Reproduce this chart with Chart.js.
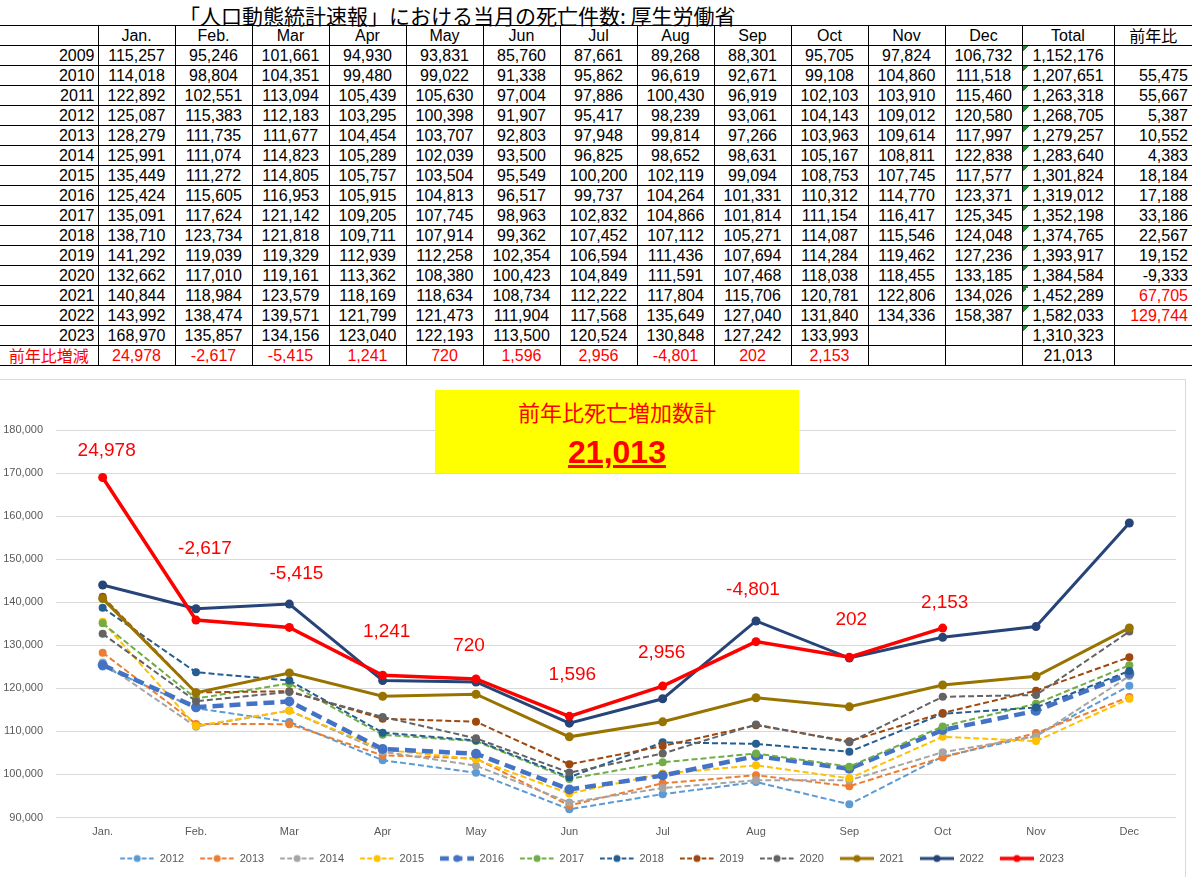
<!DOCTYPE html>
<html>
<head>
<meta charset="utf-8">
<script src="https://cdn.jsdelivr.net/npm/chart.js@4.4.0/dist/chart.umd.min.js"></script>
<style>
  body { margin: 0; width: 1192px; height: 877px; background: #fff; position: relative; overflow: hidden; }
  #title { position: absolute; left: 179px; top: 0; height: 25px; line-height: 24px; font: 21px "Noto Sans CJK JP"; color: #000; white-space: nowrap; }
  table { position: absolute; left: 0; top: 25px; border-collapse: collapse; table-layout: fixed; width: 1192px; }
  tr { height: 20px; }
  td { border: 1px solid #000; line-height: 17px; padding: 0 2px; font: 16px "Liberation Sans"; text-align: center; white-space: nowrap; overflow: hidden; color: #000; }
  td.lab { border-left: none; text-align: right; padding-right: 3px; }
  td.yoy { text-align: right; padding-right: 4px; border-right: none; }
  td.tot { background: linear-gradient(135deg, #1d8a2e 50%, transparent 50%) no-repeat 0 0 / 6px 6px; }
  td.jp { font-family: "Noto Sans CJK JP"; font-size: 16px; line-height: 17px; }
  .red { color: #ff0000; }
  #chartBox { position: absolute; left: 0; top: 379px; width: 1185px; height: 498px; border-top: 1px solid #d9d9d9; border-right: 1px solid #d9d9d9; }
  #chartWrap { position: absolute; left: 0; top: 0; width: 1185px; height: 494px; }
  #note { position: absolute; left: 435px; top: 10px; width: 364px; height: 83px; background: #ffff00; text-align: center; color: #ff0000; }
  #note .l1 { position: absolute; left: 0; right: 0; top: 7px; font: 22px "Noto Sans CJK JP"; line-height: 28px; }
  #note .l2 { position: absolute; left: 0; right: 0; top: 46px; font: bold 32px "Liberation Sans"; line-height: 32px; text-decoration: underline; }
</style>
</head>
<body>
<div id="title">「人口動態統計速報」における当月の死亡件数: 厚生労働省</div>
<table id="tbl"></table>
<div id="chartBox">
  <div id="chartWrap"><canvas id="deathChart"></canvas></div>
  <div id="note"><div class="l1">前年比死亡増加数計</div><div class="l2">21,013</div></div>
</div>
<script>
// monthly deaths (人口動態統計速報)
const months = ['Jan.', 'Feb.', 'Mar', 'Apr', 'May', 'Jun', 'Jul', 'Aug', 'Sep', 'Oct', 'Nov', 'Dec'];

const d2009 = [115257, 95246, 101661, 94930, 93831, 85760, 87661, 89268, 88301, 95705, 97824, 106732];
const d2010 = [114018, 98804, 104351, 99480, 99022, 91338, 95862, 96619, 92671, 99108, 104860, 111518];
const d2011 = [122892, 102551, 113094, 105439, 105630, 97004, 97886, 100430, 96919, 102103, 103910, 115460];
const d2012 = [125087, 115383, 112183, 103295, 100398, 91907, 95417, 98239, 93061, 104143, 109012, 120580];
const d2013 = [128279, 111735, 111677, 104454, 103707, 92803, 97948, 99814, 97266, 103963, 109614, 117997];
const d2014 = [125991, 111074, 114823, 105289, 102039, 93500, 96825, 98652, 98631, 105167, 108811, 122838];
const d2015 = [135449, 111272, 114805, 105757, 103504, 95549, 100200, 102119, 99094, 108753, 107745, 117577];
const d2016 = [125424, 115605, 116953, 105915, 104813, 96517, 99737, 104264, 101331, 110312, 114770, 123371];
const d2017 = [135091, 117624, 121142, 109205, 107745, 98963, 102832, 104866, 101814, 111154, 116417, 125345];
const d2018 = [138710, 123734, 121818, 109711, 107914, 99362, 107452, 107112, 105271, 114087, 115546, 124048];
const d2019 = [141292, 119039, 119329, 112939, 112258, 102354, 106594, 111436, 107694, 114284, 119462, 127236];
const d2020 = [132662, 117010, 119161, 113362, 108380, 100423, 104849, 111591, 107468, 118038, 118455, 133185];
const d2021 = [140844, 118984, 123579, 118169, 118634, 108734, 112222, 117804, 115706, 120781, 122806, 134026];
const d2022 = [143992, 138474, 139571, 121799, 121473, 111904, 117568, 135649, 127040, 131840, 134336, 158387];
const d2023 = [168970, 135857, 134156, 123040, 122193, 113500, 120524, 130848, 127242, 133993, null, null];

const years = [2009, 2010, 2011, 2012, 2013, 2014, 2015, 2016, 2017, 2018, 2019, 2020, 2021, 2022, 2023];
const yearData = [d2009, d2010, d2011, d2012, d2013, d2014, d2015, d2016, d2017, d2018, d2019, d2020, d2021, d2022, d2023];
const totals = [1152176, 1207651, 1263318, 1268705, 1279257, 1283640, 1301824, 1319012, 1352198, 1374765, 1393917, 1384584, 1452289, 1582033, 1310323];
const yoy = [null, 55475, 55667, 5387, 10552, 4383, 18184, 17188, 33186, 22567, 19152, -9333, 67705, 129744, null];
const yoyRed = [2021, 2022];

// 2023 vs 2022 by month
const diff2023 = [24978, -2617, -5415, 1241, 720, 1596, 2956, -4801, 202, 2153];
const diffTotal = 21013;

// chart series: 2012 .. 2023
const chartYears = [2012, 2013, 2014, 2015, 2016, 2017, 2018, 2019, 2020, 2021, 2022, 2023];
const colors = ['#5b9bd5', '#ed7d31', '#a5a5a5', '#ffc000', '#4472c4', '#70ad47', '#255e91', '#9e480e', '#636363', '#997300', '#264478', '#ff0000'];

// label nudges for the red numbers (px from the point)
const labelDx = [4, 9, 7, 4, -7, 3, -1, -3, 2, 2];
const labelDy = [-27, -71, -54, -43, -33, -42, -33, -52, -37, -25];

const fmt = v => v.toLocaleString('en-US');

// ---- table ----
const tbl = document.getElementById('tbl');
let html = '<colgroup><col style="width:98px">';
months.forEach(() => { html += '<col style="width:77px">'; });
html += '<col style="width:92px"><col style="width:78px"></colgroup>';
html += '<tr><td class="lab"></td>' + months.map(m => '<td>' + m + '</td>').join('') +
  '<td>Total</td><td class="jp" style="border-right:none">前年比</td></tr>';
years.forEach((y, i) => {
  html += '<tr><td class="lab">' + y + '</td>';
  yearData[i].forEach(v => { html += '<td>' + (v == null ? '' : fmt(v)) + '</td>'; });
  html += '<td class="tot">' + fmt(totals[i]) + '</td>';
  const red = yoyRed.includes(y) ? ' red' : '';
  html += '<td class="yoy' + red + '">' + (yoy[i] == null ? '' : fmt(yoy[i])) + '</td></tr>';
});
html += '<tr><td class="lab jp red" style="text-align:center;padding:0">前年比増減</td>';
months.forEach((m, i) => { html += '<td class="red">' + (diff2023[i] == null ? '' : fmt(diff2023[i])) + '</td>'; });
html += '<td>' + fmt(diffTotal) + '</td><td class="yoy"></td></tr>';
tbl.innerHTML = html;

// ---- chart ----
function lineStyle(year) {
  if (year === 2016) return { width: 4.5, dash: [11, 6], radius: 5 };
  if (year >= 2021) return { width: year === 2023 ? 3.5 : 3, dash: [], radius: 4.5 };
  return { width: 2, dash: [6, 3], radius: 4 };
}

// legend icon: short line + marker, drawn into a little canvas
function legendIcon(color, year) {
  const st = lineStyle(year);
  const c = document.createElement('canvas');
  c.width = 42; c.height = 12;
  const g = c.getContext('2d');
  g.strokeStyle = color;
  g.lineWidth = st.width;
  g.setLineDash(st.dash.length ? [st.dash[0] * 0.8, st.dash[1] * 0.8] : []);
  g.beginPath(); g.moveTo(8, 6); g.lineTo(42, 6); g.stroke();
  g.fillStyle = color;
  g.beginPath(); g.arc(25, 6, 3.5, 0, Math.PI * 2); g.fill();
  return c;
}

const datasets = chartYears.map((y, i) => {
  const st = lineStyle(y);
  return {
    label: String(y),
    data: yearData[years.indexOf(y)],
    borderColor: colors[i],
    backgroundColor: colors[i],
    borderWidth: st.width,
    borderDash: st.dash,
    pointRadius: st.radius,
    pointBorderWidth: 0,
    pointBackgroundColor: colors[i],
    tension: 0,
    order: -i
  };
});
const icons = chartYears.map((y, i) => legendIcon(colors[i], y));

const diffLabels = {
  id: 'diffLabels',
  afterDatasetsDraw(chart) {
    const meta = chart.getDatasetMeta(chartYears.indexOf(2023));
    const ctx = chart.ctx;
    ctx.save();
    ctx.font = '19px "Liberation Sans"';
    ctx.fillStyle = '#ff0000';
    ctx.textAlign = 'center';
    ctx.textBaseline = 'middle';
    diff2023.forEach((v, i) => {
      const pt = meta.data[i];
      ctx.fillText(fmt(v), pt.x + labelDx[i], pt.y + labelDy[i]);
    });
    ctx.restore();
  }
};

const ctxDeath = document.getElementById('deathChart').getContext('2d');
new Chart(ctxDeath, {
  type: 'line',
  data: { labels: months, datasets: datasets },
  plugins: [diffLabels],
  options: {
    responsive: true,
    maintainAspectRatio: false,
    animation: false,
    layout: { padding: { top: 50, right: 9, left: 0, bottom: 0 } },
    plugins: {
      tooltip: { enabled: false },
      legend: {
        position: 'bottom',
        labels: {
          usePointStyle: true,
          pointStyleWidth: 42,
          padding: 8,
          color: '#595959',
          font: { family: 'Liberation Sans', size: 11 },
          sort: (a, b) => a.datasetIndex - b.datasetIndex,
          generateLabels(chart) {
            const items = Chart.defaults.plugins.legend.labels.generateLabels(chart);
            items.forEach(it => { it.pointStyle = icons[it.datasetIndex]; });
            return items;
          }
        }
      }
    },
    scales: {
      x: {
        offset: true,
        grid: { display: false },
        border: { display: false },
        ticks: { color: '#595959', font: { family: 'Liberation Sans', size: 11 }, padding: 0, maxRotation: 0 },
        afterFit(scale) { scale.height = 27.5; }
      },
      y: {
        min: 90000,
        max: 180000,
        grid: { color: '#d9d9d9', drawTicks: false },
        border: { display: false },
        ticks: {
          stepSize: 10000,
          padding: 13,
          color: '#595959',
          font: { family: 'Liberation Sans', size: 11 },
          callback: v => fmt(v)
        },
        afterFit(scale) { scale.width = 56; }
      }
    }
  }
});
</script>
</body>
</html>
